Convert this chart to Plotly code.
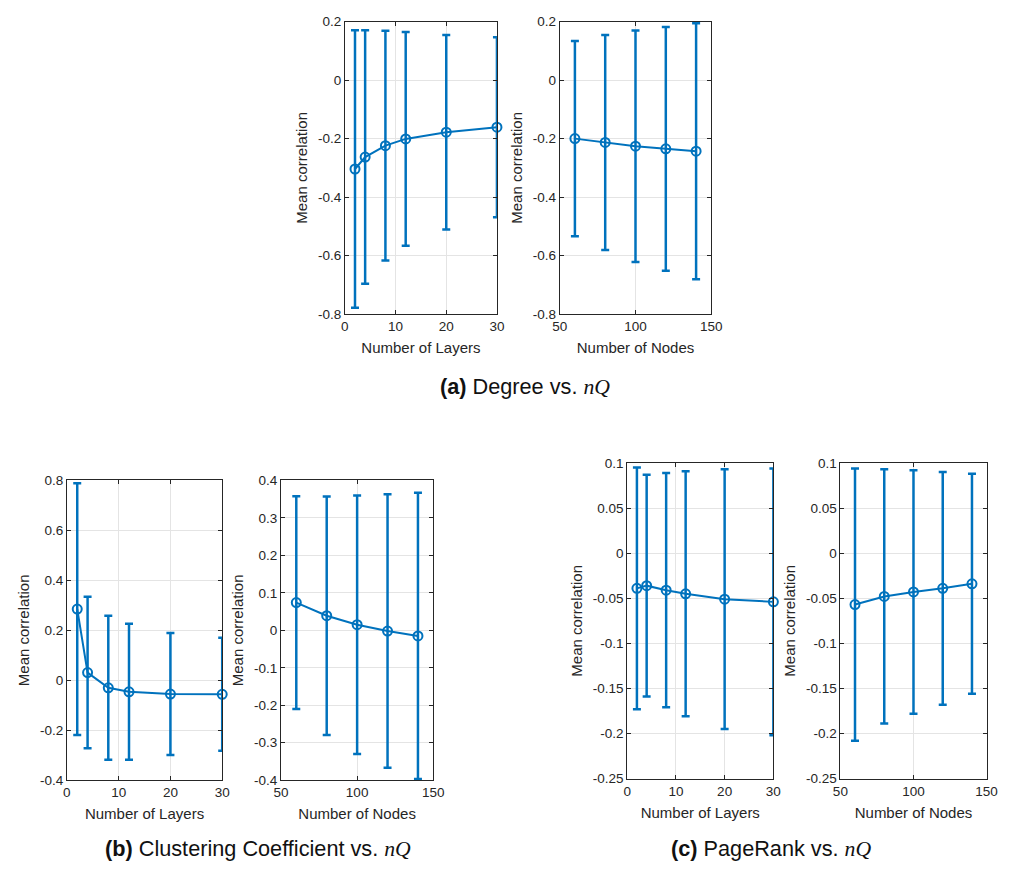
import plotly.graph_objects as go

# Sweep settings
layers = [2, 4, 8, 12, 20, 30]
nodes = [60, 80, 100, 120, 140]

# Degree vs. nQ
deg_layers_mean = [-0.304, -0.263, -0.224, -0.201, -0.178, -0.161]
deg_layers_sd = [0.475, 0.434, 0.393, 0.366, 0.333, 0.308]
deg_nodes_mean = [-0.200, -0.213, -0.226, -0.235, -0.243]
deg_nodes_sd = [0.334, 0.368, 0.396, 0.417, 0.438]

# Clustering coefficient vs. nQ
cc_layers_mean = [0.285, 0.031, -0.030, -0.046, -0.055, -0.056]
cc_layers_sd = [0.504, 0.303, 0.288, 0.272, 0.244, 0.226]
cc_nodes_mean = [0.074, 0.039, 0.015, -0.002, -0.015]
cc_nodes_sd = [0.284, 0.318, 0.345, 0.365, 0.382]

# PageRank vs. nQ
pr_layers_mean = [-0.039, -0.036, -0.041, -0.045, -0.051, -0.054]
pr_layers_sd = [0.134, 0.123, 0.130, 0.136, 0.144, 0.148]
pr_nodes_mean = [-0.057, -0.048, -0.043, -0.039, -0.034]
pr_nodes_sd = [0.151, 0.141, 0.135, 0.129, 0.122]

# Tick labels
layer_ticks = [0, 10, 20, 30]
node_ticks = [50, 100, 150]
deg_yticks = [-0.8, -0.6, -0.4, -0.2, 0, 0.2]
deg_ytext = ["-0.8", "-0.6", "-0.4", "-0.2", "0", "0.2"]
cc_layers_yticks = [-0.4, -0.2, 0, 0.2, 0.4, 0.6, 0.8]
cc_layers_ytext = ["-0.4", "-0.2", "0", "0.2", "0.4", "0.6", "0.8"]
cc_nodes_yticks = [-0.4, -0.3, -0.2, -0.1, 0, 0.1, 0.2, 0.3, 0.4]
cc_nodes_ytext = ["-0.4", "-0.3", "-0.2", "-0.1", "0", "0.1", "0.2", "0.3", "0.4"]
pr_yticks = [-0.25, -0.2, -0.15, -0.1, -0.05, 0, 0.05, 0.1]
pr_ytext = ["-0.25", "-0.2", "-0.15", "-0.1", "-0.05", "0", "0.05", "0.1"]

W, H = 1013, 876
BLUE = "#0072BD"
AXC = "#262626"
GRID = "#e4e4e4"
FONT = "Liberation Sans, Arial, sans-serif"

# (x, mean, sd, x-range, x-ticks, y-range, y-ticks, y-text, x-title, box in px [l, r, t, b])
panels = [
    (layers, deg_layers_mean, deg_layers_sd, [0, 30], layer_ticks, [-0.8, 0.2],
     deg_yticks, deg_ytext, "Number of Layers", [343.3, 498.3, 15, 312.3]),
    (nodes, deg_nodes_mean, deg_nodes_sd, [50, 150], node_ticks, [-0.8, 0.2],
     deg_yticks, deg_ytext, "Number of Nodes", [562.3, 716.7, 15, 312.3]),
    (layers, cc_layers_mean, cc_layers_sd, [0, 30], layer_ticks, [-0.4, 0.8],
     cc_layers_yticks, cc_layers_ytext, "Number of Layers", [60, 218.3, 481.7, 786.7]),
    (nodes, cc_nodes_mean, cc_nodes_sd, [50, 150], node_ticks, [-0.4, 0.4],
     cc_nodes_yticks, cc_nodes_ytext, "Number of Nodes", [278.3, 433.3, 481.7, 786.7]),
    (layers, pr_layers_mean, pr_layers_sd, [0, 30], layer_ticks, [-0.25, 0.1],
     pr_yticks, pr_ytext, "Number of Layers", [631, 780, 464, 785]),
    (nodes, pr_nodes_mean, pr_nodes_sd, [50, 150], node_ticks, [-0.25, 0.1],
     pr_yticks, pr_ytext, "Number of Nodes", [848.3, 997.3, 464, 785]),
]

fig = go.Figure()
layout = {}
for i, (xs, mean, sd, xr, xt, yr, yt, ytxt, xtitle, box) in enumerate(panels, start=1):
    sfx = "" if i == 1 else str(i)
    l, r, t, b = box
    fig.add_trace(go.Scatter(
        x=xs, y=mean,
        mode="lines+markers",
        line=dict(color=BLUE, width=2),
        marker=dict(symbol="circle-open", size=9, color=BLUE, line=dict(width=2, color=BLUE)),
        error_y=dict(type="data", array=sd, visible=True, color=BLUE, thickness=2.5, width=4),
        cliponaxis=False,
        showlegend=False,
        xaxis="x" + sfx, yaxis="y" + sfx,
    ))
    common = dict(
        showline=True, linecolor=AXC, linewidth=1, mirror="ticks",
        ticks="inside", ticklen=4, tickcolor=AXC, tickwidth=1,
        showgrid=True, gridcolor=GRID, gridwidth=1, zeroline=False,
        tickfont=dict(family=FONT, size=13.5, color=AXC),
        fixedrange=True,
    )
    layout["xaxis" + sfx] = dict(
        common, domain=[l / W, r / W], range=xr, tickvals=xt,
        anchor="y" + sfx,
        title=dict(text=xtitle, font=dict(family=FONT, size=15, color=AXC), standoff=9),
    )
    layout["yaxis" + sfx] = dict(
        common, domain=[1 - b / H, 1 - t / H], range=yr, tickvals=yt, ticktext=ytxt,
        anchor="x" + sfx,
        title=dict(text="Mean correlation", font=dict(family=FONT, size=15, color=AXC), standoff=6),
    )

serif = "font-family:'Liberation Serif', 'Times New Roman', serif"
captions = [
    ("<b>(a)</b> Degree vs. <i><span style=\"%s\">nQ</span></i>" % serif, 527, 386),
    ("<b>(b)</b> Clustering Coefficient vs. <i><span style=\"%s\">nQ</span></i>" % serif, 255, 856),
    ("<b>(c)</b> PageRank vs. <i><span style=\"%s\">nQ</span></i>" % serif, 778, 856),
]
annotations = [
    dict(text=txt, x=cx / W, y=1 - cy / H, xref="paper", yref="paper",
         xanchor="center", yanchor="middle", showarrow=False,
         font=dict(family=FONT, size=21.7, color="#111111"))
    for txt, cx, cy in captions
]

fig.update_layout(
    width=W, height=H,
    margin=dict(l=0, r=0, t=0, b=0),
    paper_bgcolor="white", plot_bgcolor="white",
    annotations=annotations,
    **layout,
)

fig.write_html("out.html", config={"displayModeBar": False})
